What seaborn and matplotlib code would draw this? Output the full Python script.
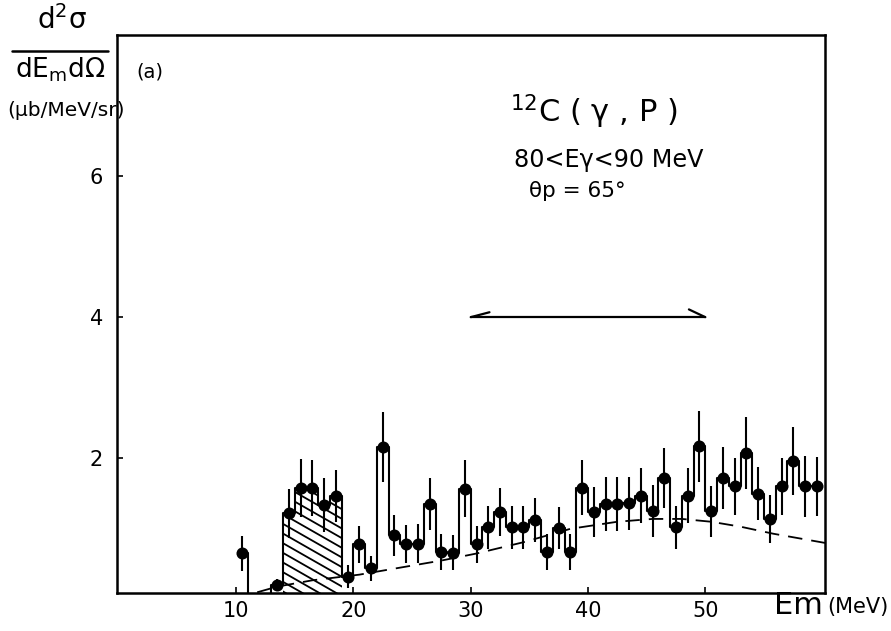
import numpy as np
import pandas as pd
import matplotlib
matplotlib.use("Agg")
import matplotlib.pyplot as plt
from matplotlib.lines import Line2D
import seaborn as sns

# Missing-energy bins (MeV, bin centres) and measured cross sections (ub/MeV/sr)
em = [10.5, 13.5, 14.5, 15.5, 16.5, 17.5, 18.5, 19.5, 20.5, 21.5,
      22.5, 23.5, 24.5, 25.5, 26.5, 27.5, 28.5, 29.5, 30.5, 31.5,
      32.5, 33.5, 34.5, 35.5, 36.5, 37.5, 38.5, 39.5, 40.5, 41.5,
      42.5, 43.5, 44.5, 45.5, 46.5, 47.5, 48.5, 49.5, 50.5, 51.5,
      52.5, 53.5, 54.5, 55.5, 56.5, 57.5, 58.5, 59.5]
yld = [0.65, 0.21, 1.22, 1.58, 1.58, 1.34, 1.47, 0.32, 0.78, 0.44,
       2.16, 0.91, 0.79, 0.79, 1.35, 0.67, 0.66, 1.57, 0.78, 1.02,
       1.24, 1.02, 1.02, 1.13, 0.67, 1.01, 0.67, 1.58, 1.24, 1.35,
       1.35, 1.36, 1.47, 1.25, 1.72, 1.02, 1.47, 2.17, 1.25, 1.72,
       1.60, 2.08, 1.50, 1.14, 1.60, 1.96, 1.60, 1.60]
err = [0.25, 0.08, 0.35, 0.41, 0.40, 0.38, 0.37, 0.16, 0.26, 0.18,
       0.50, 0.29, 0.27, 0.28, 0.37, 0.25, 0.25, 0.40, 0.26, 0.30,
       0.34, 0.31, 0.31, 0.31, 0.26, 0.30, 0.26, 0.39, 0.35, 0.38,
       0.38, 0.38, 0.39, 0.37, 0.42, 0.31, 0.39, 0.50, 0.36, 0.44,
       0.41, 0.51, 0.38, 0.34, 0.41, 0.48, 0.43, 0.42]

# Hatched low-missing-energy region (bins between these edges)
hatch_lo, hatch_hi = 14, 19

# Calculated curve (dashed)
calc_em = [11.8, 13.5, 16.5, 20.5, 24.0, 27.5, 30.5, 34.5, 38.5,
           42.5, 45.5, 48.0, 50.5, 53.0, 55.8, 60.2]
calc_y = [0.10, 0.18, 0.27, 0.35, 0.45, 0.55, 0.65, 0.81, 1.00,
          1.10, 1.14, 1.14, 1.10, 1.03, 0.93, 0.80]

# Double arrow marking the integration range
arrow_range = [30, 50]
arrow_level = 4.0

xticks = [10, 20, 30, 40, 50]
yticks = [2, 4, 6]

sns.set_style("ticks")
plt.rcParams["font.family"] = ["DejaVu Sans"]
plt.rcParams["text.color"] = "black"
plt.rcParams["xtick.color"] = "black"
plt.rcParams["ytick.color"] = "black"
plt.rcParams["axes.labelcolor"] = "black"

W, H = 891, 631
fig = plt.figure(figsize=(W / 100, H / 100), dpi=100)
ax = fig.add_axes([117 / W, 1 - 593 / H, (825 - 117) / W, (593 - 35) / H])

df = pd.DataFrame({"em": em, "yld": yld, "err": err})

# Step histogram on a full 1-MeV grid, empty bins at zero
grid = np.arange(min(em), max(em) + 0.5, 1.0)
steps = df.set_index("em")["yld"].reindex(grid, fill_value=0.0)
sns.lineplot(x=steps.index, y=steps.values, ax=ax, drawstyle="steps-mid",
             color="black", linewidth=1.5, estimator=None)

# Hatched bins: outline patch used as a clip path for slanted hatch lines
sel = df[(df["em"] > hatch_lo) & (df["em"] < hatch_hi)]
edges = np.append(sel["em"].values - 0.5, sel["em"].values[-1] + 0.5)
region = ax.stairs(sel["yld"].values, edges, baseline=0, fill=True,
                   facecolor="none", edgecolor="none", linewidth=0)
slope = -0.095      # data units of y per MeV
spacing = 0.137     # vertical spacing between hatch lines
hx = np.array([hatch_lo - 0.5, hatch_hi + 0.5])
top = sel["yld"].max()
for c in np.arange(-0.3, top + 0.8, spacing):
    ln, = ax.plot(hx, c + slope * (hx - hatch_lo), color="black", lw=1.3)
    ln.set_clip_path(region)

# Error bars and data points
ax.errorbar(df["em"], df["yld"], yerr=df["err"], fmt="none",
            ecolor="black", elinewidth=1.5, capsize=0)
sns.scatterplot(data=df, x="em", y="yld", ax=ax, color="black",
                s=75, marker="o", edgecolor="black", linewidth=0, zorder=5)

# Calculated curve
sns.lineplot(x=calc_em, y=calc_y, ax=ax, color="black", linewidth=1.3,
             dashes=False, linestyle=(0, (8, 5)), estimator=None)

# Range arrow with half barbs
x0, x1 = arrow_range
ax.plot([x0, x1], [arrow_level, arrow_level], color="black", lw=1.6)
ax.plot([x0, x0 + 1.6], [arrow_level, arrow_level + 0.07], color="black", lw=1.6)
ax.plot([x1, x1 - 1.4], [arrow_level, arrow_level + 0.11], color="black", lw=1.6)

ax.set_xlim(-0.15, 60.2)
ax.set_ylim(0.09, 8.0)
ax.set_xticks(xticks)
ax.set_yticks(yticks)
ax.tick_params(direction="in", length=4, width=1.2, labelsize=15,
               top=False, right=False, pad=6, colors="black")
ax.tick_params(axis="y", pad=10)
ax.set_xlabel("")
ax.set_ylabel("")
for s in ax.spines.values():
    s.set_linewidth(1.8)
    s.set_color("black")
    s.set_visible(True)


def px(x, y):
    return x / W, 1 - y / H


# Panel and reaction annotations
fig.text(*px(150, 72), "(a)", fontsize=14, ha="center", va="center")
fig.text(*px(594, 112), r"$^{12}$C ( γ , P )", fontsize=22, ha="center", va="center")
fig.text(*px(609, 160), "80<Eγ<90 MeV", fontsize=17.2, ha="center", va="center")
fig.text(*px(577, 191), "θp = 65°", fontsize=15.5, ha="center", va="center")

# Y axis quantity as a fraction
fig.text(*px(62, 20), r"d$^2$σ", fontsize=20, ha="center", va="center")
fig.add_artist(Line2D([12 / W, 108 / W], [1 - 51 / H, 1 - 51 / H],
                      color="black", lw=1.8, transform=fig.transFigure))
fig.text(*px(60, 70), r"dE$_{\rm m}$dΩ", fontsize=19, ha="center", va="center")
fig.text(*px(66, 110), "(μb/MeV/sr)", fontsize=14.5, ha="center", va="center")

# X axis quantity
fig.text(*px(798, 606), "Em", fontsize=22, ha="center", va="center")
fig.text(*px(858, 607), "(MeV)", fontsize=15, ha="center", va="center")

fig.savefig("out.png", dpi=100)
